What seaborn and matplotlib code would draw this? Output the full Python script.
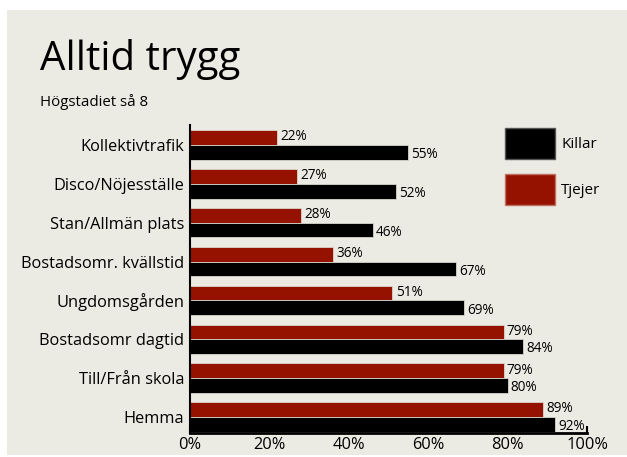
import numpy as np
import pandas as pd
import matplotlib.pyplot as plt
import matplotlib as mpl
from matplotlib.patches import Rectangle, Patch
import seaborn as sns

# data (percent who always feel safe)
platser = ['Kollektivtrafik', 'Disco/Nöjesställe', 'Stan/Allmän plats',
           'Bostadsomr. kvällstid', 'Ungdomsgården', 'Bostadsomr dagtid',
           'Till/Från skola', 'Hemma']
tjejer = [22, 27, 28, 36, 51, 79, 79, 89]
killar = [55, 52, 46, 67, 69, 84, 80, 92]
xticks = [0, 20, 40, 60, 80, 100]

bg = '#ecebe3'
red = '#951100'

df = pd.DataFrame({
    'plats': platser * 2,
    'andel': tjejer + killar,
    'kon': ['Tjejer'] * len(platser) + ['Killar'] * len(platser),
})

sns.set_style('white')
plt.rcParams['font.family'] = ['Open Sans', 'DejaVu Sans']
plt.rcParams['text.color'] = 'black'
plt.rcParams['xtick.color'] = 'black'
plt.rcParams['ytick.color'] = 'black'

fig = plt.figure(figsize=(6.27, 4.57), dpi=100, facecolor='white')
fig.patches.append(Rectangle((7 / 627, 2 / 457), 1, 1 - 12 / 457,
                             transform=fig.transFigure, facecolor=bg,
                             edgecolor='none', zorder=-5))
ax = fig.add_axes([190 / 627, 1 - 433 / 457, 397 / 627, 308 / 457])
ax.set_facecolor(bg)

sns.barplot(data=df, x='andel', y='plats', hue='kon', orient='h',
            hue_order=['Tjejer', 'Killar'], palette=[red, 'black'],
            width=0.76, ax=ax, legend=False, edgecolor='#d8d5cc',
            linewidth=0.6, saturation=1)

# value labels
for i, (t, k) in enumerate(zip(tjejer, killar)):
    ax.text(t + 0.8, i - 0.21, f'{t}%', va='center', ha='left', fontsize=9.8)
    ax.text(k + 0.8, i + 0.25, f'{k}%', va='center', ha='left', fontsize=9.8)

ax.set_xlim(0, 100)
ax.set_ylim(7.41, -0.51)
ax.set_xticks(xticks)
ax.set_xticklabels([f'{v}%' for v in xticks])
ax.set_xlabel('')
ax.set_ylabel('')
ax.tick_params(axis='x', direction='in', length=5, width=1.5, color='black',
               labelsize=11.8, pad=3, bottom=True)
ax.tick_params(axis='y', length=0, labelsize=11.8, pad=4)

for s in ['top', 'right']:
    ax.spines[s].set_visible(False)
ax.spines['left'].set_linewidth(1.5)
ax.spines['left'].set_color('black')
ax.spines['bottom'].set_linewidth(2)
ax.spines['bottom'].set_color('black')

handles = [Patch(facecolor='black', edgecolor='#555555', label='Killar'),
           Patch(facecolor=red, edgecolor='#c07060', label='Tjejer')]
fig.legend(handles=handles, loc='upper left',
           bbox_to_anchor=(491 / 627, 1 - 114 / 457),
           frameon=False, fontsize=11, handlelength=3.3, handleheight=2.8,
           labelspacing=0.95, handletextpad=0.4)

fig.text(40 / 627, 1 - 60 / 457, 'Alltid trygg', fontsize=29, va='center',
         ha='left')
fig.text(40 / 627, 1 - 102 / 457, 'Högstadiet så 8', fontsize=10.8,
         va='center', ha='left')

fig.savefig('out.png', dpi=100, facecolor='white')
